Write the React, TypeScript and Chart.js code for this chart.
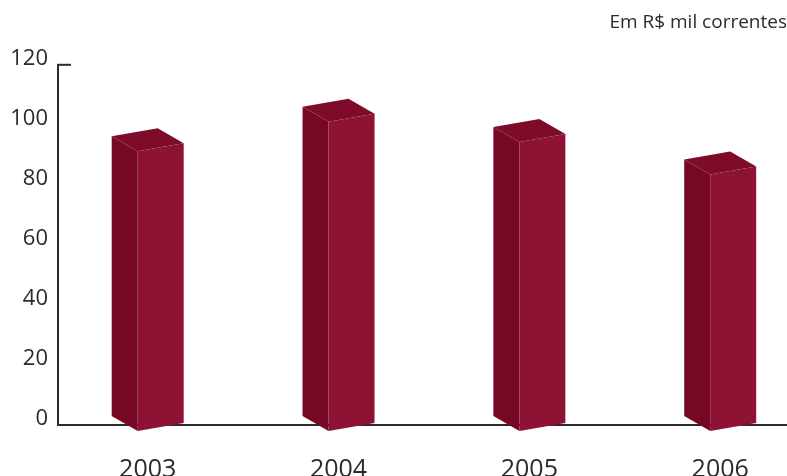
import { useEffect, useRef } from "react";
import { Chart, registerables } from "chart.js";

Chart.register(...registerables);

const years = ["2003", "2004", "2005", "2006"];
const values = [92.5, 102.4, 95.6, 84.8];
const yTickValues = [0, 20, 40, 60, 80, 100, 120];
const unitNote = "Em R$ mil correntes";

const FRONT = "#8E1233";
const SIDE = "#770825";
const TOPC = "#7E0B2A";
const TEXT = "#2b2b2b";
const FONT = "'Open Sans', 'DejaVu Sans', sans-serif";

function poly(ctx: CanvasRenderingContext2D, pts: number[][], color: string) {
  ctx.beginPath();
  ctx.moveTo(pts[0][0], pts[0][1]);
  for (let i = 1; i < pts.length; i++) ctx.lineTo(pts[i][0], pts[i][1]);
  ctx.closePath();
  ctx.fillStyle = color;
  ctx.fill();
}

const box3d = {
  id: "box3d",
  afterDatasetsDraw(chart: any) {
    const ctx: CanvasRenderingContext2D = chart.ctx;
    const meta = chart.getDatasetMeta(0);
    ctx.save();
    meta.data.forEach((el: any) => {
      const { x, y, base, width } = el.getProps(["x", "y", "base", "width"], true);
      const D = 26;
      const DY = 15;
      const S = 4;
      const B1 = 6;
      const B2 = 2;
      const xl = x - width / 2 + D;
      const xr = x + width / 2;
      const flt = [xl, y + S];
      const frt = [xr, y - S];
      const flb = [xl, base + B1];
      const frb = [xr, base - B2];
      const blt = [xl - D, y + S - DY];
      const brt = [xr - D, y - S - DY];
      const blb = [xl - D, base + B1 - DY];
      poly(ctx, [flt, blt, blb, flb], SIDE);
      poly(ctx, [flt, frt, brt, blt], TOPC);
      poly(ctx, [flt, frt, frb, flb], FRONT);
    });
    ctx.restore();
  },
  afterDraw(chart: any) {
    const ctx: CanvasRenderingContext2D = chart.ctx;
    const ys = chart.scales.y;
    const yy = ys.getPixelForValue(yTickValues[yTickValues.length - 1]);
    ctx.save();
    ctx.strokeStyle = TEXT;
    ctx.lineWidth = 2;
    ctx.beginPath();
    ctx.moveTo(chart.chartArea.left - 1, yy);
    ctx.lineTo(chart.chartArea.left + 13, yy);
    ctx.stroke();
    ctx.restore();
  },
};

export default function App() {
  const ref = useRef<HTMLCanvasElement | null>(null);
  useEffect(() => {
    document.body.style.margin = "0";
    if (!ref.current) return;
    const chart = new Chart(ref.current, {
      type: "bar",
      data: {
        datasets: [
          {
            data: values.map((v, i) => ({ x: i, y: v })),
            backgroundColor: "rgba(0,0,0,0)",
            borderWidth: 0,
            barThickness: 72,
          },
        ],
      },
      options: {
        responsive: false,
        animation: false,
        layout: { padding: { left: 0, right: 0, top: 0, bottom: 0 } },
        plugins: {
          legend: { display: false },
          tooltip: { enabled: false },
          title: {
            display: true,
            text: unitNote,
            align: "end",
            color: TEXT,
            font: { family: FONT, size: 19, weight: "normal" },
            padding: { top: 11.5, bottom: 30.5 },
          },
        },
        scales: {
          x: {
            type: "linear",
            offset: false,
            min: -0.47,
            max: 3.35,
            afterBuildTicks: (scale: any) => {
              scale.ticks = years.map((_, i) => ({ value: i }));
            },
            afterFit: (scale: any) => {
              scale.height = 51;
            },
            grid: { display: false, drawTicks: false, offset: false },
            border: { display: true, color: TEXT, width: 2 },
            ticks: {
              autoSkip: false,
              maxRotation: 0,
              padding: 30,
              color: TEXT,
              font: { family: FONT, size: 25 },
              callback: (v: any) => years[v as number] ?? "",
            },
          },
          y: {
            min: 0,
            max: 120,
            afterBuildTicks: (scale: any) => {
              scale.ticks = yTickValues.map((v) => ({ value: v }));
            },
            afterFit: (scale: any) => {
              scale.width = 58;
            },
            grid: { display: false, drawTicks: false },
            border: { display: true, color: TEXT, width: 2 },
            ticks: {
              padding: 10,
              labelOffset: -6,
              color: TEXT,
              font: { family: FONT, size: 22 },
            },
          },
        },
      },
      plugins: [box3d],
    } as any);
    return () => chart.destroy();
  }, []);
  return (
    <div style={{ width: 787, height: 476 }}>
      <canvas ref={ref} width={787} height={476} />
    </div>
  );
}
